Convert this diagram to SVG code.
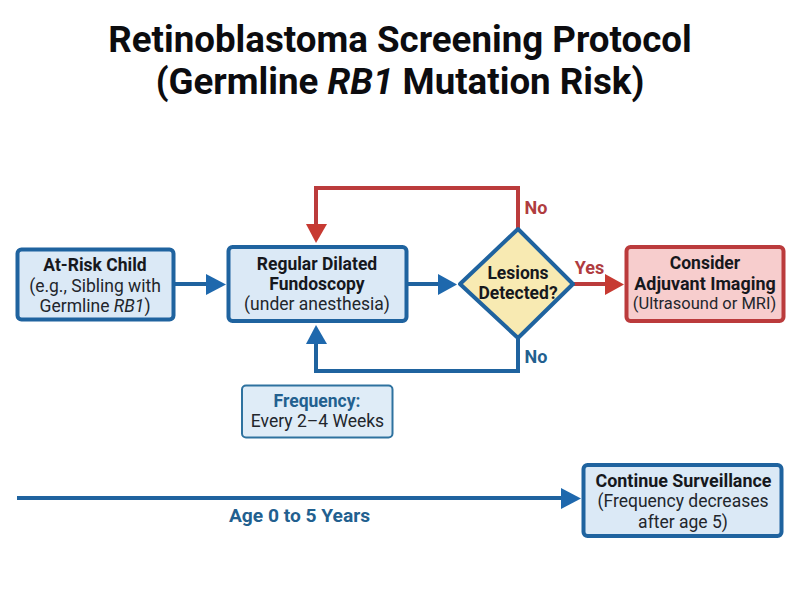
<svg xmlns="http://www.w3.org/2000/svg" width="800" height="600" viewBox="0 0 800 600">
<style>
text{font-family:Roboto,"Liberation Sans",sans-serif;text-anchor:middle;fill:#16181d}
.t{font-size:36.700px;font-weight:700;fill:#0c0c0f}
.b{font-size:17.500px;font-weight:700}
.w{font-size:17.900px}
.n{font-size:17.500px;font-weight:400;fill:#22262c}
.blue{fill:#dbe9f6;stroke:#1f639f;stroke-width:4}
.thin{fill:#dfecf7;stroke:#2e729f;stroke-width:2}
.red{fill:#f7cdcd;stroke:#bb3b3c;stroke-width:4}
.lb{stroke:#1f639f;stroke-width:4;fill:none}
.lr{stroke:#bb3b3c;stroke-width:4;fill:none}
.cb{fill:#1e68ad;stroke:none}
.cr{fill:#c73a32;stroke:none}
.tb{font-weight:700;font-size:18px;fill:#22608f}
.tr{font-weight:700;font-size:18px;fill:#b03c40}
</style>
<g id="title">
<text class="t" x="400" y="52">Retinoblastoma Screening Protocol</text>
<text class="t" x="400" y="94">(Germline <tspan font-style="italic">RB1</tspan> Mutation Risk)</text>
</g>
<g id="connectors">
<path class="lb" d="M175 284H208"/><polygon class="cb" points="206,274 226,284.500 206,295"/>
<path class="lb" d="M408 284H440"/><polygon class="cb" points="438,274 457,284.500 438,295"/>
<path class="lr" d="M518 228V188H316V226"/><polygon class="cr" points="306,224 327,224 316,243"/>
<path class="lb" d="M518 338V371H316V340"/><polygon class="cb" points="306,344 327,344 316,325"/>
<path class="lr" d="M574 284H608"/><polygon class="cr" points="605,274 624,284.500 605,295"/>
<path class="lb" d="M17 498H564"/><polygon class="cb" points="561,488 581,498.500 561,509"/>
</g>
<g id="at-risk">
<rect class="blue" x="17.500" y="249.500" width="156" height="70" rx="4"/>
<text class="b" x="95" y="271">At-Risk Child</text>
<text class="n" x="95" y="292">(e.g., Sibling with</text>
<text class="n" x="95" y="312">Germline <tspan font-style="italic">RB1</tspan>)</text>
</g>
<g id="fundoscopy">
<rect class="blue" x="228.500" y="247" width="178" height="74" rx="4"/>
<text class="b" x="317" y="270">Regular Dilated</text>
<text class="b" x="317" y="290">Fundoscopy</text>
<text class="n" x="317" y="310">(under anesthesia)</text>
</g>
<g id="frequency">
<rect class="thin" x="242" y="385.500" width="150.500" height="52" rx="4"/>
<text class="b" x="317" y="407" style="fill:#22608f">Frequency:</text>
<text class="n" x="317.500" y="427">Every 2–4 Weeks</text>
</g>
<g id="lesions">
<polygon points="518,229 573,284 518,338 460,284" fill="#f8eab2" stroke="#1f639f" stroke-width="4" stroke-linejoin="round"/>
<text class="b" x="518" y="279">Lesions</text>
<text class="b" x="518" y="299">Detected?</text>
</g>
<g id="imaging">
<rect class="red" x="626.500" y="247" width="157" height="74" rx="4"/>
<text class="b" x="705" y="269">Consider</text>
<text class="b w" x="705" y="290">Adjuvant Imaging</text>
<text class="n" x="704.500" y="309" style="font-size:16.500px">(Ultrasound or MRI)</text>
</g>
<g id="surveillance">
<rect class="blue" x="583.500" y="465" width="198" height="71" rx="4"/>
<text class="b w" x="683.500" y="487">Continue Surveillance</text>
<text class="n" x="683" y="507">(Frequency decreases</text>
<text class="n" x="683" y="528">after age 5)</text>
</g>
<g id="labels">
<text class="tr" x="536" y="214">No</text>
<text class="tr" x="589.500" y="274">Yes</text>
<text class="tb" x="536" y="363">No</text>
<text class="tb" x="299.500" y="522" style="font-size:19.200px">Age 0 to 5 Years</text>
</g>
</svg>
